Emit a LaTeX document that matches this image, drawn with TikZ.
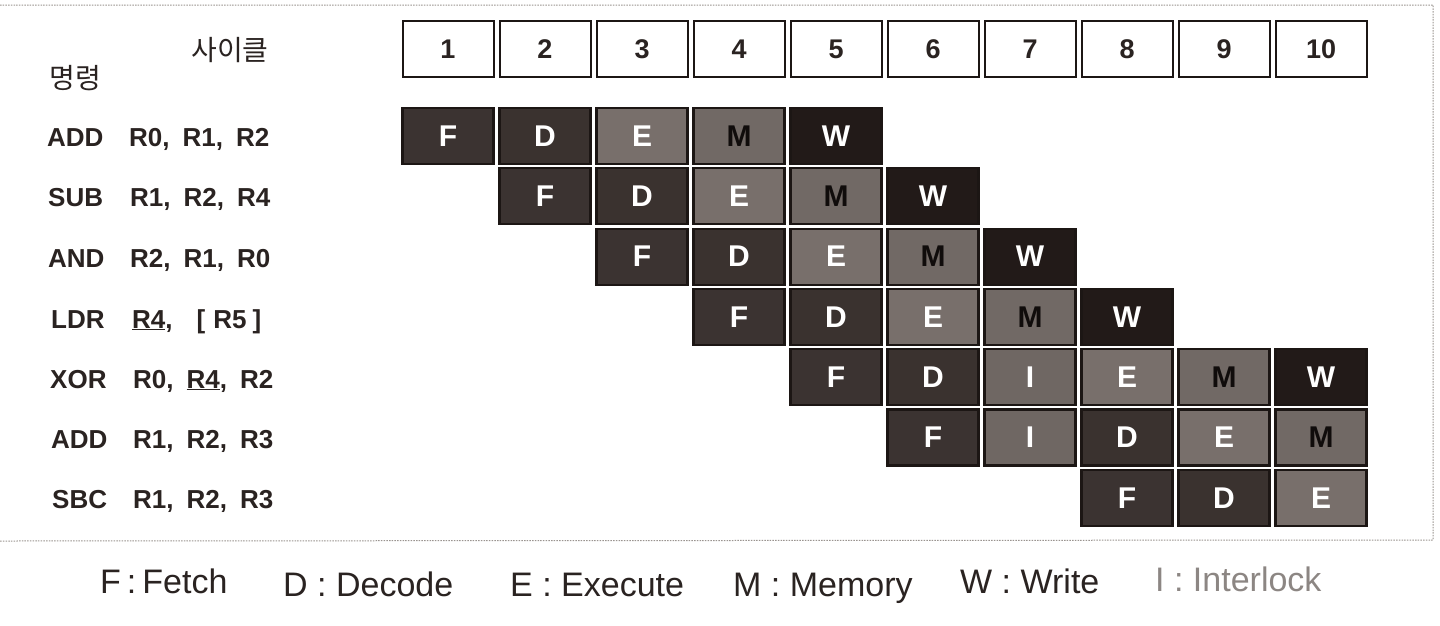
\documentclass[tikz,border=0pt]{standalone}
\usepackage{fontspec}
\setmainfont{Liberation Sans}
\newfontfamily\kr{Noto Sans CJK KR}
\definecolor{ink}{HTML}{2A2321}
\definecolor{edge}{HTML}{1C1614}
\definecolor{cF}{HTML}{3B3331}
\definecolor{cD}{HTML}{3A322F}
\definecolor{cE}{HTML}{786F6B}
\definecolor{cM}{HTML}{716965}
\definecolor{cW}{HTML}{221A18}
\definecolor{cI}{HTML}{6F6763}
\definecolor{tF}{HTML}{FFFFFF}
\definecolor{tD}{HTML}{FFFFFF}
\definecolor{tE}{HTML}{FFFFFF}
\definecolor{tW}{HTML}{FFFFFF}
\definecolor{tI}{HTML}{FFFFFF}
\definecolor{tM}{HTML}{100C0B}
\definecolor{framec}{HTML}{9A9490}
\definecolor{lightink}{HTML}{8C8683}
\begin{document}
\begin{tikzpicture}[x=1pt,y=-1pt,
  hdr/.style={draw=edge, line width=2pt, fill=white, minimum width=91pt, minimum height=56pt, inner sep=0pt, text=ink, font=\bfseries\fontsize{27}{27}\selectfont},
  cell/.style={draw=edge, line width=2.2pt, minimum width=91pt, minimum height=56pt, inner sep=0pt, font=\bfseries\fontsize{30}{30}\selectfont},
  instr/.style={anchor=base west, inner sep=0pt, text=ink, font=\bfseries\fontsize{26}{26}\selectfont},
  korean/.style={inner sep=0pt, text=ink, font=\kr\fontsize{28}{28}\selectfont},
  legend/.style={anchor=base west, inner sep=0pt, text=ink, font=\fontsize{34}{34}\selectfont},
  framedots/.style={draw=framec, line width=1pt, dash pattern=on 1.5pt off 1.2pt}
]
\useasboundingbox (0,0) rectangle (1440,625);
\fill[white] (0,0) rectangle (1440,625);

% dotted frame
\coordinate (fa) at (0,5);
\coordinate (fb) at (1433,5);
\coordinate (fc) at (1433,540);
\coordinate (fd) at (0,541);
\draw[framedots] (fa) -- (fb) -- (fc) -- (fd);

% header cycles
\foreach \k in {1,...,10}
  \node[hdr] (h\k) at ({448+97*(\k-1)},49) {\k};

% headings
\node[korean] (cyc) at (230,50) {사이클};
\node[korean] (cmd) at (75,78) {명령};

% instructions
\node[instr] (m1) at (47,146) {ADD};
\node[instr] (o1) at (129,146) {R0,\hspace{13pt}R1,\hspace{13pt}R2};
\node[instr] (m2) at (48,206) {SUB};
\node[instr] (o2) at (130,206) {R1,\hspace{13pt}R2,\hspace{13pt}R4};
\node[instr] (m3) at (48,267) {AND};
\node[instr] (o3) at (130,267) {R2,\hspace{13pt}R1,\hspace{13pt}R0};
\node[instr] (m4) at (51,328) {LDR};
\node[instr] (o4) at (132,328) {\underline{R4},\hspace{24pt}[\hspace{8pt}R5\hspace{6pt}]};
\node[instr] (m5) at (50,388) {XOR};
\node[instr] (o5) at (133,388) {R0,\hspace{13pt}\underline{R4},\hspace{13pt}R2};
\node[instr] (m6) at (51,448) {ADD};
\node[instr] (o6) at (133,448) {R1,\hspace{13pt}R2,\hspace{13pt}R3};
\node[instr] (m7) at (52,508) {SBC};
\node[instr] (o7) at (133,508) {R1,\hspace{13pt}R2,\hspace{13pt}R3};

% pipeline cells
\foreach \r/\s/\seq in {1/1/{F,D,E,M,W},2/2/{F,D,E,M,W},3/3/{F,D,E,M,W},4/4/{F,D,E,M,W},5/5/{F,D,I,E,M,W},6/6/{F,I,D,E,M},7/8/{F,D,E}}{
  \foreach \l [count=\k from 0] in \seq {
    \node[cell, fill=c\l, text=t\l] (c\r-\k) at ({448+97*(\s+\k-1)},{136+60.3*(\r-1)}) {\l};
  }
}

% legend
\node[legend] (lf) at (100,593) {F\hspace{6pt}:\hspace{6pt}Fetch};
\node[legend] (ld) at (283,596) {D : Decode};
\node[legend] (le) at (510,596) {E : Execute};
\node[legend] (lm) at (733,596) {M : Memory};
\node[legend] (lw) at (960,593) {W : Write};
\node[legend, text=lightink] (li) at (1155,591) {I : Interlock};
\end{tikzpicture}
\end{document}
